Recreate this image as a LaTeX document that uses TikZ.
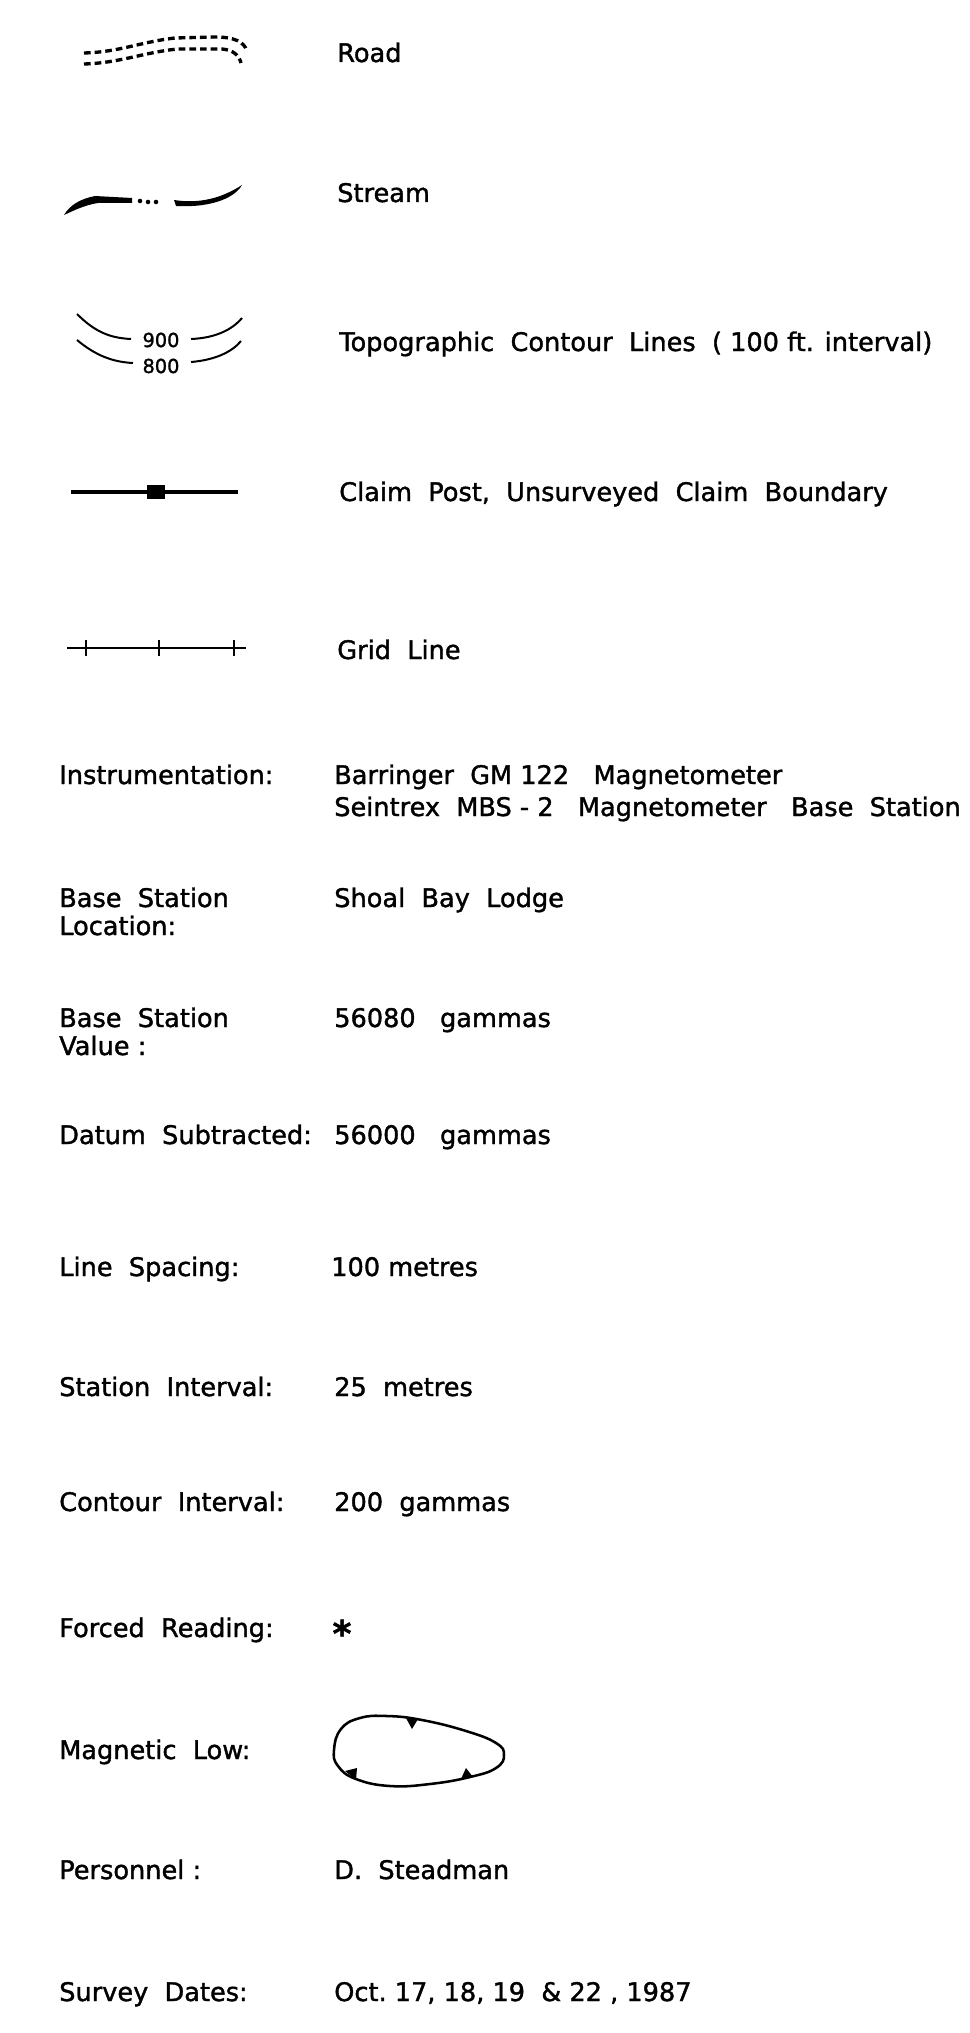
\documentclass[tikz,border=0pt]{standalone}
\usepackage{fontspec}
\setmainfont[FakeBold=1.4]{DejaVu Sans}
\begin{document}
\begin{tikzpicture}[x=0.75pt,y=-0.75pt,
  txt/.style={anchor=base west,inner sep=0pt,font=\fontsize{19.2}{23}\selectfont},
  small/.style={inner sep=0pt,font=\fontsize{14.5}{16}\selectfont},
  roadline/.style={line width=2.5pt,dash pattern=on 5pt off 3pt},
  thin/.style={line width=1.5pt}]
\useasboundingbox[fill=white] (0,0) rectangle (970,2033);

% ---- symbols
% Road
\draw[roadline] (84,53) .. controls (120,52) and (140,42) .. (175,38) -- (215,37) .. controls (235,37) and (244,42) .. (247,51);
\draw[roadline] (84,64) .. controls (120,63) and (145,52) .. (178,49) -- (222,49) .. controls (233,50) and (239,55) .. (241,63);
% Stream
\fill (64,215) .. controls (70,205) and (80,199) .. (95,196) -- (132,198) -- (132,203) -- (98,203) .. controls (85,205) and (75,210) .. (64,215) -- cycle;
\fill (140,201) circle (1.7pt) (148,202) circle (1.7pt) (156,202) circle (1.7pt);
\fill (174,200) .. controls (200,204) and (222,198) .. (242,185) .. controls (236,196) and (215,208) .. (176,206) -- cycle;
% Contours
\draw[thin] (77,314) .. controls (95,332) and (110,338) .. (131,339);
\draw[thin] (191,339) .. controls (215,338) and (232,330) .. (242,318);
\draw[thin] (77,340) .. controls (95,355) and (112,362) .. (133,363);
\draw[thin] (191,362) .. controls (215,360) and (232,352) .. (241,341);
\node[small] (c900) at (161,340) {900};
\node[small] (c800) at (161,366) {800};
% Claim post
\draw[line width=2.6pt] (71,492) -- (238,492);
\fill (147,485) rectangle (165,499);
% Grid line
\draw[line width=1.6pt] (67,648) -- (246,648);
\foreach \gx in {86,159,234} \draw[line width=1.4pt] (\gx,640) -- (\gx,656);

% ---- legend texts
\node[txt] (road) at (337,62) {Road};
\node[txt] (stream) at (337,202) {Stream};
\node[txt] (contour) at (339,351) {Topographic\ \ Contour\ \ Lines\ \ ( 100 ft. interval)};
\node[txt] (claim) at (339,501) {Claim\ \ Post,\ \ Unsurveyed\ \ Claim\ \ Boundary};
\node[txt] (grid) at (337,659) {Grid\ \ Line};

% ---- information
\node[txt] (instr) at (59,784) {Instrumentation:};
\node[txt] (instrA) at (334,784) {Barringer\ \ GM 122\ \ \ Magnetometer};
\node[txt] (instrB) at (334,816) {Seintrex\ \ MBS - 2\ \ \ Magnetometer\ \ \ Base\ \ Station};

\node[txt] (bslA) at (59,907) {Base\ \ Station};
\node[txt] (bslB) at (59,935) {Location:};
\node[txt] (bslV) at (334,907) {Shoal\ \ Bay\ \ Lodge};

\node[txt] (bsvA) at (59,1027) {Base\ \ Station};
\node[txt] (bsvB) at (59,1055) {Value :};
\node[txt] (bsvV) at (334,1027) {56080\ \ \ gammas};

\node[txt] (datum) at (59,1144) {Datum\ \ Subtracted:};
\node[txt] (datumV) at (334,1144) {56000\ \ \ gammas};

\node[txt] (lsp) at (59,1276) {Line\ \ Spacing:};
\node[txt] (lspV) at (331,1276) {100 metres};

\node[txt] (sti) at (59,1396) {Station\ \ Interval:};
\node[txt] (stiV) at (334,1396) {25\ \ metres};

\node[txt] (coi) at (59,1511) {Contour\ \ Interval:};
\node[txt] (coiV) at (334,1511) {200\ \ gammas};

\node[txt] (frd) at (59,1637) {Forced\ \ Reading:};
\node[inner sep=0pt,font=\fontsize{27}{29}\selectfont\bfseries] (frdV) at (342,1633) {*};

\node[txt] (mlow) at (59,1759) {Magnetic\ \ Low:};
\draw[line width=1.9pt] plot[smooth cycle,tension=0.75] coordinates
  {(334,1750) (341,1729) (360,1718) (387,1716) (422,1720) (466,1731) (496,1743)
   (504,1755) (496,1768) (470,1777) (430,1784) (390,1786) (356,1779) (338,1766)};
\fill (406,1718) -- (418,1719) -- (412,1729) -- cycle;
\fill (345,1771) -- (356,1780) -- (357,1768) -- cycle;
\fill (461,1779) -- (473,1777) -- (466,1768) -- cycle;

\node[txt] (pers) at (59,1879) {Personnel :};
\node[txt] (persV) at (334,1879) {D.\ \ Steadman};

\node[txt] (sdat) at (59,2001) {Survey\ \ Dates:};
\node[txt] (sdatV) at (334,2001) {Oct.\ 17,\ 18,\ 19\ \ \&\ 22 ,\ 1987};
\end{tikzpicture}
\end{document}
